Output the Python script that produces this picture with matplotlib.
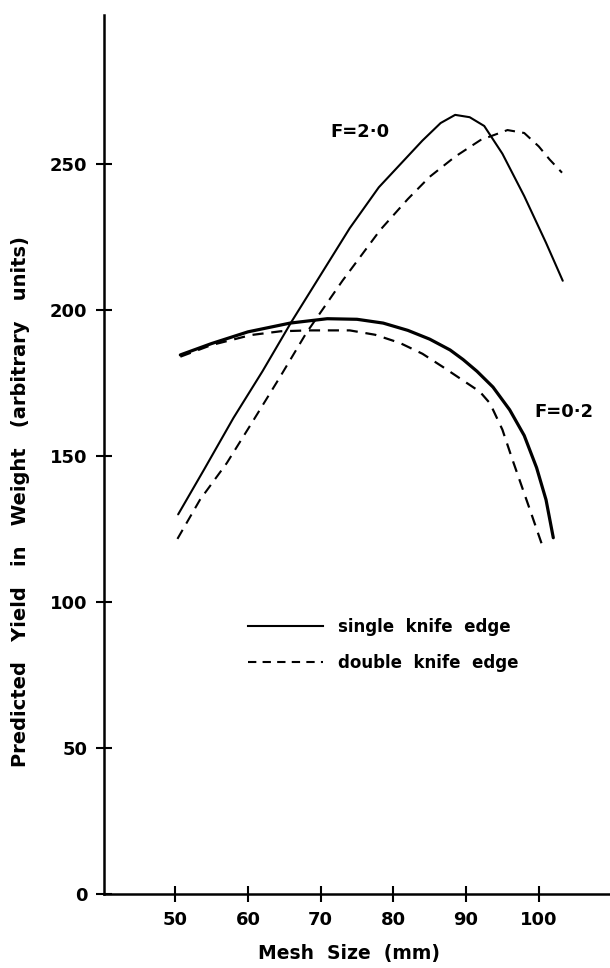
import matplotlib
matplotlib.use("Agg")
import matplotlib.pyplot as plt
from matplotlib.lines import Line2D

# ---- data ----
x_single_f20 = [50.4, 54, 58, 62, 66, 70, 74, 78, 81, 84, 86.5, 88.5, 90.5, 92.5, 95, 98, 101, 103.3]
y_single_f20 = [130, 145.5, 163, 179, 196, 212, 228, 242, 250, 258, 264, 266.8, 266, 263, 253.5, 239, 223, 210]

x_double_f20 = [50.3, 53.4, 57.1, 60.7, 64.4, 68, 73, 78.2, 82, 85, 88.5, 92, 95.7, 98, 100, 101.5, 103.2]
y_double_f20 = [121.6, 135, 147.6, 162, 177, 192, 210, 227.4, 238, 245.6, 252.5, 258.2, 261.6, 260.6, 256, 251.5, 247]

x_single_f02 = [50.7, 55, 60, 65.8, 70.9, 75, 78.6, 82, 85, 87.8, 89.6, 91.5, 93.7, 96, 98, 99.7, 101, 102]
y_single_f02 = [184.6, 188.5, 192.5, 195.5, 197, 196.8, 195.5, 193, 190, 186.3, 183, 179, 173.6, 165.8, 157, 146, 135, 122]

x_double_f02 = [50.7, 55, 60.4, 64.5, 68.5, 74, 77.5, 80.9, 84, 86.8, 89.5, 91.9, 93.3, 95, 96.4, 98.8, 100.6]
y_double_f02 = [184, 188, 191.4, 192.7, 193, 193, 191.5, 188.7, 185, 180.5, 176, 172, 168, 159, 148.6, 131.5, 118.5]

x_ticks = [50, 60, 70, 80, 90, 100]
y_ticks = [0, 50, 100, 150, 200, 250]
legend_labels = ["single  knife  edge", "double  knife  edge"]
curve_labels = ["F=2\u00b70", "F=0\u00b72"]

plt.rcParams['font.family'] = ['DejaVu Sans']
plt.rcParams['font.weight'] = 'bold'

fig = plt.figure(figsize=(6.10, 9.68), dpi=100)
ax = fig.add_axes([104/610, 1-894/968, 1-104/610, (894-15)/968])

dash = (0, (5, 3.5))
ax.plot(x_single_f20, y_single_f20, color='black', lw=1.5, solid_capstyle='round')
ax.plot(x_double_f20, y_double_f20, color='black', lw=1.5, linestyle=dash)
ax.plot(x_single_f02, y_single_f02, color='black', lw=2.3, solid_capstyle='round')
ax.plot(x_double_f02, y_double_f02, color='black', lw=1.6, linestyle=dash)

ax.set_xlim(40.2, 109.8)
ax.set_ylim(0, 301)

for s in ['top', 'right']:
    ax.spines[s].set_visible(False)
for s in ['left', 'bottom']:
    ax.spines[s].set_linewidth(1.8)

ax.set_xticks(x_ticks)
ax.set_yticks(y_ticks)
ax.set_xticklabels([str(v) for v in x_ticks])
ax.set_yticklabels([str(v) for v in y_ticks])
ax.tick_params(axis='both', direction='inout', length=12, width=1.5, labelsize=13, pad=6)
for lab in ax.get_xticklabels() + ax.get_yticklabels():
    lab.set_fontweight('bold')

ax.set_xlabel("Mesh  Size  (mm)", fontsize=13.5, fontweight='bold')
ax.xaxis.set_label_coords((349-104)/506, (894-944)/879)
ax.set_ylabel("Predicted   Yield   in   Weight   (arbitrary   units)", fontsize=14, fontweight='bold')
ax.yaxis.set_label_coords((30-104)/506, (894-502)/879)

ax.text(75.4, 261, curve_labels[0], fontsize=13, fontweight='bold', ha='center', va='center')
ax.text(103.4, 165, curve_labels[1], fontsize=13, fontweight='bold', ha='center', va='center')

handles = [Line2D([], [], color='black', lw=1.5),
           Line2D([], [], color='black', lw=1.5, linestyle=(0, (4, 3)))]
leg = fig.legend(handles, legend_labels, loc='upper left',
                 bbox_to_anchor=(248/610, 1-618/968), frameon=False,
                 prop={'size': 12, 'weight': 'bold'}, handlelength=4.5,
                 handletextpad=0.9, labelspacing=1.05, borderpad=0, borderaxespad=0)

fig.savefig("out.png", dpi=100)
